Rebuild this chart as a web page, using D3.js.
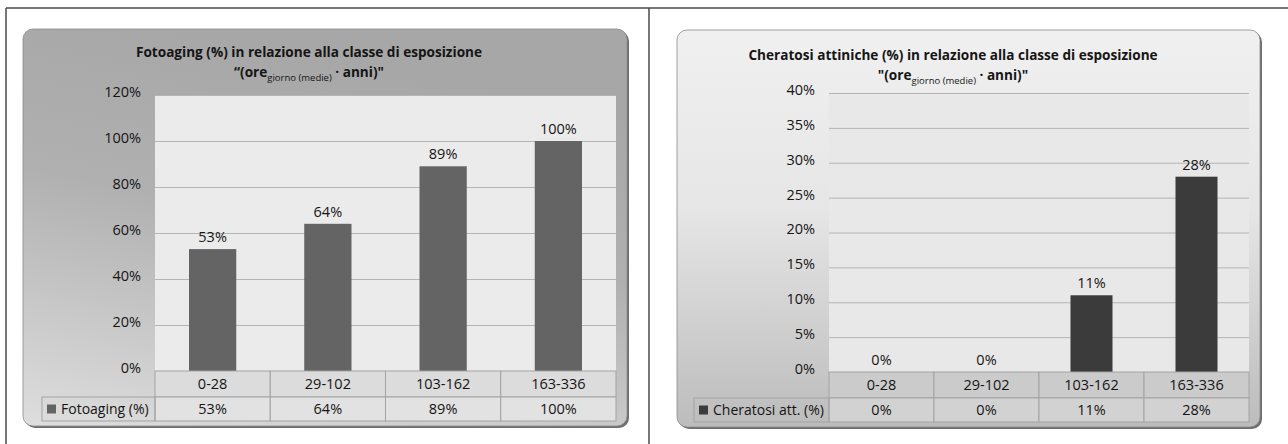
<!DOCTYPE html>
<html>
<head>
<meta charset="utf-8">
<script src="https://cdn.jsdelivr.net/npm/d3@7"></script>
<style>
	body { margin:0; background:#fff; }
	svg text { font-family: "Open Sans", "Noto Sans", sans-serif; fill:#151515; }
</style>
</head>
<body>
<div id="c-svg"></div>
<script>

//data
const categories = ["0-28", "29-102", "103-162", "163-336"];
const fotoagingValues = [53, 64, 89, 100];
const cheratosiValues = [0, 0, 11, 28];
const fotoagingTicks = [0, 20, 40, 60, 80, 100, 120];
const cheratosiTicks = [0, 5, 10, 15, 20, 25, 30, 35, 40];
const fotoagingTitle = "Fotoaging (%) in relazione alla classe di esposizione";
const cheratosiTitle = "Cheratosi attiniche (%) in relazione alla classe di esposizione";
const fotoagingSeries = "Fotoaging (%)";
const cheratosiSeries = "Cheratosi att. (%)";


function drawAll(){

	//sizing
	let width = 1288;
	let height = 444;

	let svg = d3.select("#c-svg")
		.append("svg")
		.attr("width", width)
		.attr("height", height);

	let defs = svg.append("defs");

	//gradients for the chart boxes
	let gLeft = defs.append("linearGradient")
		.attr("id", "bg-left")
		.attr("x1", 0.3).attr("y1", 0).attr("x2", 0).attr("y2", 1);
	gLeft.append("stop").attr("offset", "0%").attr("stop-color", "#a7a7a7");
	gLeft.append("stop").attr("offset", "40%").attr("stop-color", "#b0b0b0");
	gLeft.append("stop").attr("offset", "100%").attr("stop-color", "#dedede");

	let gRight = defs.append("linearGradient")
		.attr("id", "bg-right")
		.attr("x1", 0).attr("y1", 0).attr("x2", 0).attr("y2", 1);
	gRight.append("stop").attr("offset", "0%").attr("stop-color", "#f0f0f0");
	gRight.append("stop").attr("offset", "45%").attr("stop-color", "#e6e6e6");
	gRight.append("stop").attr("offset", "100%").attr("stop-color", "#bcbcbc");

	//outer frame
	svg.append("line")
		.attr("x1", 6).attr("x2", width).attr("y1", 8).attr("y2", 8)
		.attr("stroke", "#4a4a4a").attr("stroke-width", 1.5);
	svg.append("line")
		.attr("x1", 6).attr("x2", 6).attr("y1", 8).attr("y2", height)
		.attr("stroke", "#4a4a4a").attr("stroke-width", 1.5);
	svg.append("line")
		.attr("x1", 649).attr("x2", 649).attr("y1", 8).attr("y2", height)
		.attr("stroke", "#4a4a4a").attr("stroke-width", 1.5);

	drawChart(svg, {
		box: [23, 29, 604, 397],
		fill: "url(#bg-left)",
		plot: [155, 95, 616, 371],
		rowH: [26, 24],
		legendX: 42,
		max: 120,
		ticks: fotoagingTicks,
		values: fotoagingValues,
		barColor: "#646464",
		barFrac: 0.41,
		plotFill: "#ebebeb",
		catFill: "#dcdcdc",
		serFill: "#e2e2e2",
		title: fotoagingTitle,
		titleX: 309,
		titleY: 57,
		openQuote: "\u201c(ore",
		series: fotoagingSeries
	});

	drawChart(svg, {
		box: [677, 30, 583, 397],
		fill: "url(#bg-right)",
		plot: [829, 93, 1249, 372],
		rowH: [26, 24],
		legendX: 694,
		max: 40,
		ticks: cheratosiTicks,
		values: cheratosiValues,
		barColor: "#3b3b3b",
		barFrac: 0.4,
		plotFill: "#e8e8e8",
		catFill: "#cbcbcb",
		serFill: "#d2d2d2",
		title: cheratosiTitle,
		titleX: 953,
		titleY: 60,
		openQuote: "\"(ore",
		series: cheratosiSeries
	});

}


function drawChart(svg, c){

	let g = svg.append("g");

	//box with shadow
	g.append("rect")
		.attr("x", c.box[0] + 2).attr("y", c.box[1] + 2)
		.attr("width", c.box[2]).attr("height", c.box[3])
		.attr("rx", 10)
		.attr("fill", "#6e6e6e");
	g.append("rect")
		.attr("x", c.box[0]).attr("y", c.box[1])
		.attr("width", c.box[2]).attr("height", c.box[3])
		.attr("rx", 10)
		.attr("fill", c.fill)
		.attr("stroke", "#8c8c8c")
		.attr("stroke-width", 0.8);

	//scales
	let x = d3.scaleBand()
		.domain(categories)
		.range([c.plot[0], c.plot[2]])
		.padding(0);

	let y = d3.scaleLinear()
		.domain([0, c.max])
		.range([c.plot[3], c.plot[1]]);

	//plot area
	g.append("rect")
		.attr("x", c.plot[0]).attr("y", c.plot[1])
		.attr("width", c.plot[2] - c.plot[0])
		.attr("height", c.plot[3] - c.plot[1])
		.attr("fill", c.plotFill);

	//gridlines
	let grid = g.append("g")
		.attr("transform", `translate(${c.plot[0]},0)`)
		.call(d3.axisLeft(y)
			.tickValues(c.ticks)
			.tickSize(-(c.plot[2] - c.plot[0]))
			.tickFormat(""));
	grid.select(".domain").remove();
	grid.selectAll("line")
		.attr("stroke", "#b4b4b4")
		.attr("stroke-width", 1);

	//y labels
	let yAxis = g.append("g")
		.attr("transform", `translate(${c.plot[0] - 14},0)`)
		.call(d3.axisLeft(y)
			.tickValues(c.ticks)
			.tickSize(0)
			.tickFormat(d => d + "%"));
	yAxis.select(".domain").remove();
	yAxis.selectAll("text")
		.attr("x", 0)
		.attr("dy", "0.1em")
		.style("font-size", "14.5px")
		.style("font-family", "\"Open Sans\", sans-serif")
		.attr("fill", "#151515");

	//bars
	let bw = x.bandwidth() * c.barFrac;
	g.append("g")
		.selectAll("rect")
		.data(c.values)
		.join("rect")
		.attr("x", (d, i) => x(categories[i]) + (x.bandwidth() - bw) / 2)
		.attr("y", d => y(d))
		.attr("width", bw)
		.attr("height", d => y(0) - y(d))
		.attr("fill", c.barColor);

	//bar labels
	g.append("g")
		.selectAll("text")
		.data(c.values)
		.join("text")
		.attr("x", (d, i) => x(categories[i]) + x.bandwidth() / 2)
		.attr("y", d => y(d) - 7)
		.attr("text-anchor", "middle")
		.style("font-size", "14.5px")
		.text(d => d + "%");

	//data table
	let r0 = c.plot[3];
	let r1 = r0 + c.rowH[0];

	let table = g.append("g");

	table.selectAll(".cat-cell")
		.data(categories)
		.join("rect")
		.attr("class", "cat-cell")
		.attr("x", d => x(d)).attr("y", r0)
		.attr("width", x.bandwidth()).attr("height", c.rowH[0])
		.attr("fill", c.catFill)
		.attr("stroke", "#a3a3a3");

	table.selectAll(".ser-cell")
		.data(categories)
		.join("rect")
		.attr("class", "ser-cell")
		.attr("x", d => x(d)).attr("y", r1)
		.attr("width", x.bandwidth()).attr("height", c.rowH[1])
		.attr("fill", c.serFill)
		.attr("stroke", "#a3a3a3");

	table.append("rect")
		.attr("x", c.legendX).attr("y", r1)
		.attr("width", c.plot[0] - c.legendX).attr("height", c.rowH[1])
		.attr("fill", "none")
		.attr("stroke", "#a3a3a3");

	table.selectAll(".cat-text")
		.data(categories)
		.join("text")
		.attr("class", "cat-text")
		.attr("x", d => x(d) + x.bandwidth() / 2)
		.attr("y", r0 + c.rowH[0] / 2 + 5)
		.attr("text-anchor", "middle")
		.style("font-size", "14.5px")
		.text(d => d);

	table.selectAll(".ser-text")
		.data(c.values)
		.join("text")
		.attr("class", "ser-text")
		.attr("x", (d, i) => x(categories[i]) + x.bandwidth() / 2)
		.attr("y", r1 + c.rowH[1] / 2 + 5)
		.attr("text-anchor", "middle")
		.style("font-size", "14.5px")
		.text(d => d + "%");

	//legend key
	table.append("rect")
		.attr("x", c.legendX + 5).attr("y", r1 + c.rowH[1] / 2 - 4.5)
		.attr("width", 9).attr("height", 9)
		.attr("fill", c.barColor);
	table.append("text")
		.attr("x", c.legendX + 19)
		.attr("y", r1 + c.rowH[1] / 2 + 5)
		.style("font-size", "14px")
		.text(c.series);

	//title
	g.append("text")
		.attr("x", c.titleX).attr("y", c.titleY)
		.attr("text-anchor", "middle")
		.style("font-weight", "bold")
		.style("font-size", "13.6px")
		.text(c.title);

	let t2 = g.append("text")
		.attr("x", c.titleX).attr("y", c.titleY + 20)
		.attr("text-anchor", "middle")
		.style("font-weight", "bold")
		.style("font-size", "13.6px");
	t2.append("tspan").text(c.openQuote);
	t2.append("tspan")
		.attr("dy", 3.5)
		.style("font-size", "9.5px")
		.style("font-weight", "normal")
		.text("giorno (medie)");
	t2.append("tspan")
		.attr("dy", -3.5)
		.text(" \u00b7 anni)\"");

}


drawAll();

</script>
</body>
</html>
